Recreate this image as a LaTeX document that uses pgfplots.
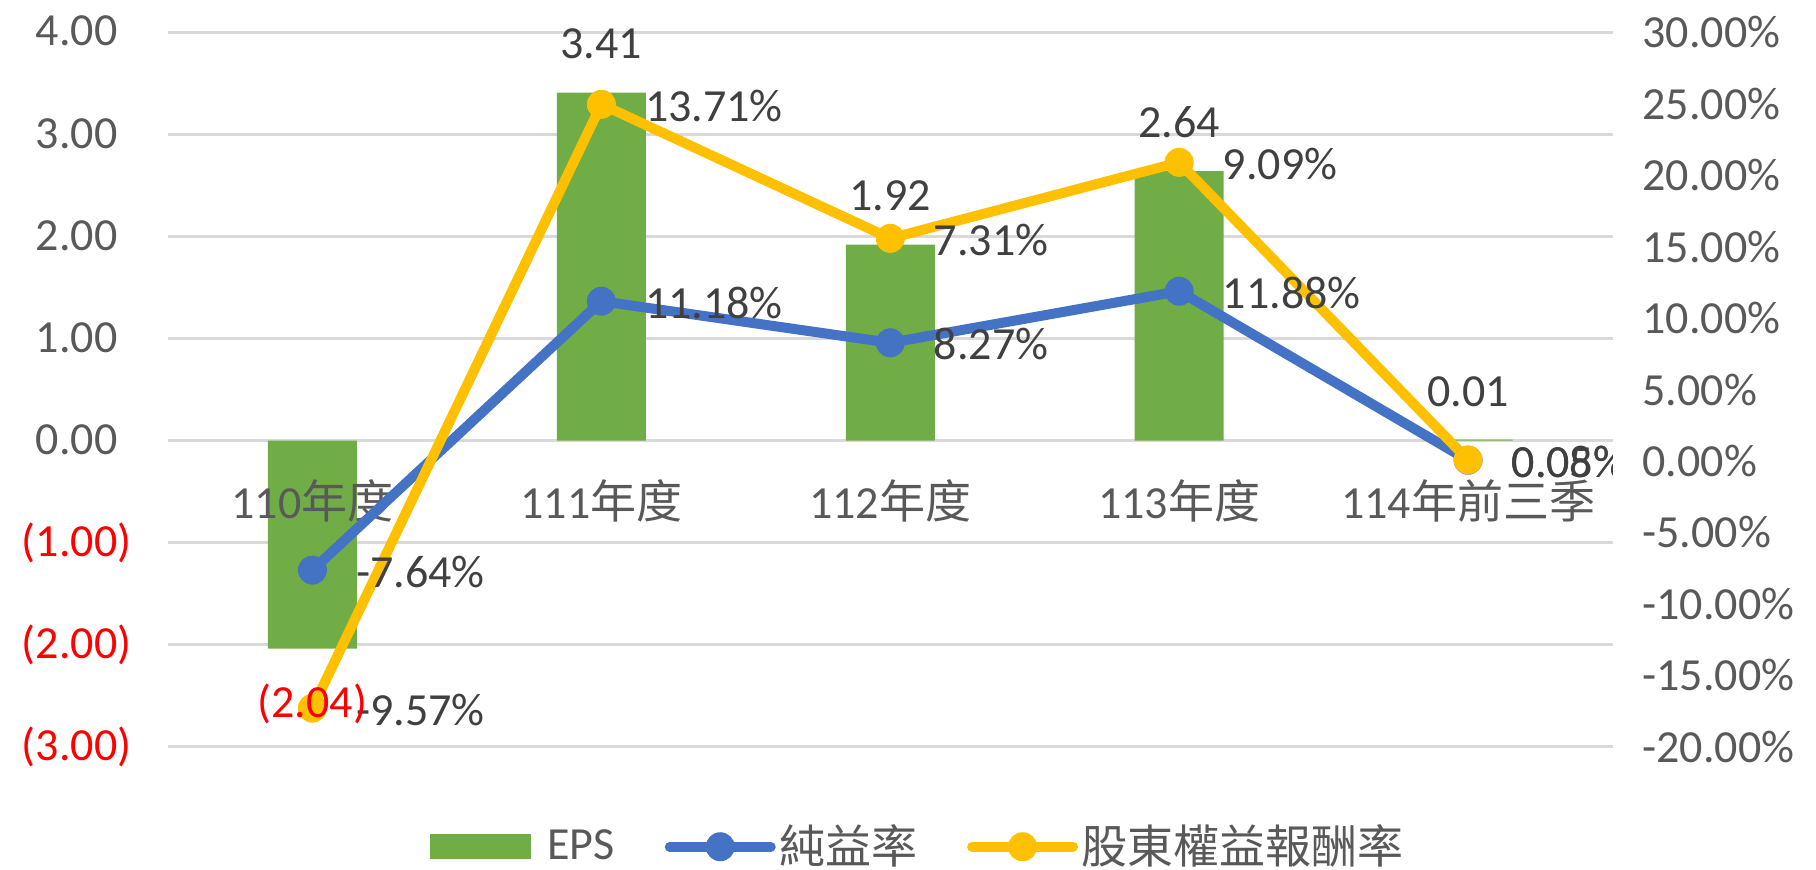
\documentclass[border=0pt]{standalone}
\usepackage{fontspec}
\setmainfont{Carlito}
\newfontfamily\cjk{Noto Sans CJK TC}
\usepackage{pgfplots}
\pgfplotsset{compat=1.18}
\definecolor{epsgreen}{HTML}{70AD47}
\definecolor{nblue}{HTML}{4472C4}
\definecolor{ryellow}{HTML}{FFC000}
\definecolor{gridgray}{HTML}{D9D9D9}
\definecolor{tickgray}{HTML}{595959}
\definecolor{labgray}{HTML}{404040}
\newcommand{\fs}{\fontsize{13.8}{16}\selectfont}
\begin{document}
\begin{tikzpicture}
\useasboundingbox (-50.4pt,-36.69pt) rectangle (494.4pt,224.01pt);
\begin{axis}[
  scale only axis, width=433.35pt, height=214.32pt,
  xmin=-0.5, xmax=4.5, ymin=-3, ymax=4,
  axis line style={draw=none}, major tick length=0pt,
  xtick=\empty,
  ytick={-3,-2,-1,0,1,2,3,4},
  yticklabels={\textcolor{red}{(3.00)},\textcolor{red}{(2.00)},\textcolor{red}{(1.00)},0.00\phantom{)},1.00\phantom{)},2.00\phantom{)},3.00\phantom{)},4.00\phantom{)}},
  yticklabel style={font=\fs, text=tickgray, inner sep=0pt, anchor=east, xshift=-10.8pt},
  ymajorgrids, major grid style={gridgray, line width=0.8pt},
]
\addplot[ybar, bar width=26.7pt, fill=epsgreen, draw=none] coordinates {(0,-2.04) (1,3.41) (2,1.92) (3,2.64) (4,0.01)};
\coordinate (b0) at (axis cs:0,-2.04);
\coordinate (b1) at (axis cs:1,3.41);
\coordinate (b2) at (axis cs:2,1.92);
\coordinate (b3) at (axis cs:3,2.64);
\coordinate (b4) at (axis cs:4,0.01);
\node[font=\fs, text=tickgray, yshift=-18pt] at (axis cs:0,0) {110{\cjk 年度}};
\node[font=\fs, text=tickgray, yshift=-18pt] at (axis cs:1,0) {111{\cjk 年度}};
\node[font=\fs, text=tickgray, yshift=-18pt] at (axis cs:2,0) {112{\cjk 年度}};
\node[font=\fs, text=tickgray, yshift=-18pt] at (axis cs:3,0) {113{\cjk 年度}};
\node[font=\fs, text=tickgray, yshift=-18pt] at (axis cs:4,0) {114{\cjk 年前三季}};
\end{axis}
\begin{axis}[
  scale only axis, width=433.35pt, height=214.32pt,
  xmin=-0.5, xmax=4.5, ymin=-20, ymax=30,
  axis y line*=right, axis x line=none,
  axis line style={draw=none}, major tick length=0pt,
  xtick=\empty,
  ytick={-20,-15,-10,-5,0,5,10,15,20,25,30},
  yticklabels={-20.00\%,-15.00\%,-10.00\%,-5.00\%,0.00\%,5.00\%,10.00\%,15.00\%,20.00\%,25.00\%,30.00\%},
  yticklabel style={font=\fs, text=tickgray, inner sep=0pt, anchor=west, xshift=8.8pt},
  legend image code/.code={\path[draw=none,fill=none] (0pt,0pt) -- (33.3pt,0pt); \draw[mark repeat=2,mark phase=2,#1] plot coordinates {(1.5pt,0pt) (16.65pt,0pt) (31.8pt,0pt)};},
  legend style={at={(0.5195,-0.140)}, anchor=center, legend columns=3, draw=none, fill=none,
    font=\fs, text=tickgray, inner sep=0pt, nodes={inner sep=1pt},
    /tikz/every even column/.append style={column sep=14pt}},
]
\addlegendimage{legend image code/.code={\fill[epsgreen] (0pt,-3.6pt) rectangle (30pt,3.6pt); \path[draw=none,fill=none] (0pt,0pt) -- (34pt,0pt);}}
\addlegendentry{EPS}
\addplot[nblue, line width=3pt, line cap=round, line join=round, mark=*, mark size=4.1pt, mark options={line width=0.5pt, fill=nblue}] coordinates {(0,-7.64) (1,11.18) (2,8.27) (3,11.88) (4,0.05)};
\addlegendentry{{\cjk 純益率}}
\addplot[ryellow, line width=3pt, line cap=round, line join=round, mark=*, mark size=4.1pt, mark options={line width=0.5pt, fill=ryellow}] coordinates {(0,-17.3) (1,24.96) (2,15.58) (3,20.9) (4,0.07)};
\addlegendentry{{\cjk 股東權益報酬率}}
\node[font=\fs, text=labgray, anchor=west, inner sep=0pt, xshift=12.9pt, yshift=-0.5pt] at (axis cs:0,-7.64) {-7.64\%};
\node[font=\fs, text=labgray, anchor=west, inner sep=0pt, xshift=12.9pt, yshift=-0.5pt] at (axis cs:1,11.18) {11.18\%};
\node[font=\fs, text=labgray, anchor=west, inner sep=0pt, xshift=12.9pt, yshift=-0.5pt] at (axis cs:2,8.27) {8.27\%};
\node[font=\fs, text=labgray, anchor=west, inner sep=0pt, xshift=12.9pt, yshift=-0.5pt] at (axis cs:3,11.88) {11.88\%};
\node[font=\fs, text=labgray, anchor=west, inner sep=0pt, xshift=12.9pt, yshift=-0.5pt] at (axis cs:4,0.05) {0.05\%};
\node[font=\fs, text=labgray, anchor=west, inner sep=0pt, xshift=12.9pt, yshift=-0.5pt] at (axis cs:0,-17.3) {-9.57\%};
\node[font=\fs, text=labgray, anchor=west, inner sep=0pt, xshift=12.9pt, yshift=-0.5pt] at (axis cs:1,24.96) {13.71\%};
\node[font=\fs, text=labgray, anchor=west, inner sep=0pt, xshift=12.9pt, yshift=-0.5pt] at (axis cs:2,15.58) {7.31\%};
\node[font=\fs, text=labgray, anchor=west, inner sep=0pt, xshift=12.9pt, yshift=-0.5pt] at (axis cs:3,20.9) {9.09\%};
\node[font=\fs, text=labgray, anchor=west, inner sep=0pt, xshift=12.9pt, yshift=-0.5pt] at (axis cs:4,0.05) {0.08\%};
\end{axis}
\node[font=\fs, text=red, yshift=-16.5pt] at (b0) {(2.04)};
\node[font=\fs, text=labgray, yshift=14.7pt] at (b1) {3.41};
\node[font=\fs, text=labgray, yshift=14.7pt] at (b2) {1.92};
\node[font=\fs, text=labgray, yshift=14.7pt] at (b3) {2.64};
\node[font=\fs, text=labgray, yshift=14.2pt] at (b4) {0.01};
\end{tikzpicture}
\end{document}
